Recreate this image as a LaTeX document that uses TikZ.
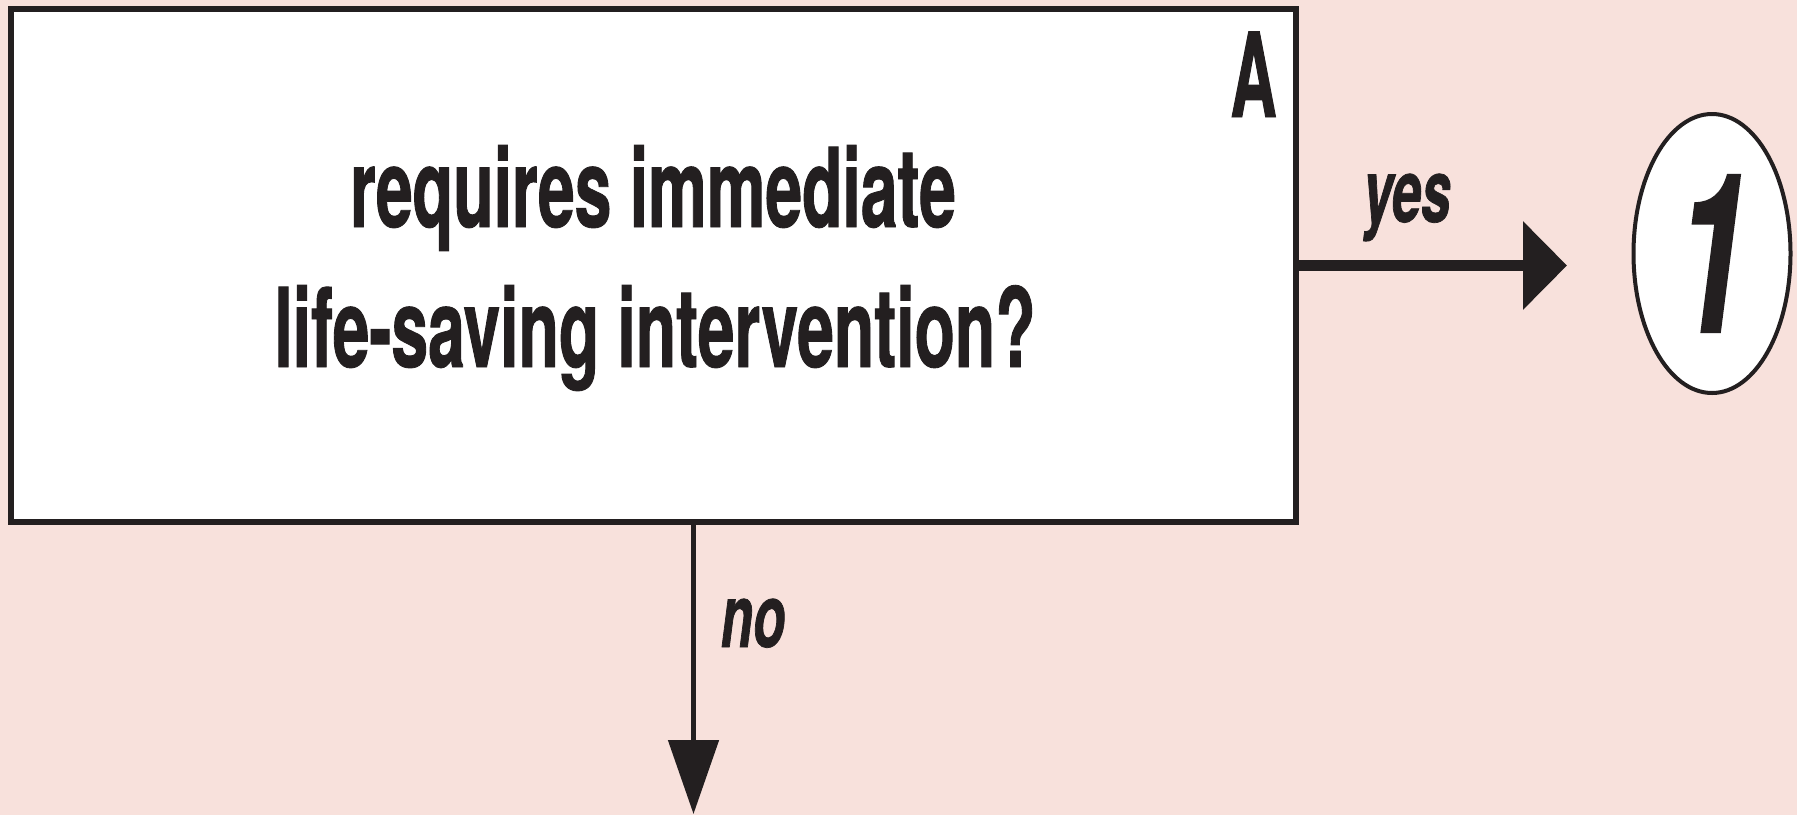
\documentclass[tikz,border=0pt]{standalone}
\usepackage{fontspec}
\setmainfont{TeX Gyre Heros}
\newfontfamily\condfont[FakeStretch=0.6,FakeBold=0.8]{TeX Gyre Heros}
\newfontfamily\condAfont[FakeStretch=0.55,FakeBold=0.8]{TeX Gyre Heros}
\usetikzlibrary{arrows.meta,shapes.geometric}
\definecolor{bg}{RGB}{248,225,220}
\definecolor{ink}{RGB}{35,31,32}
\tikzset{
  qbox/.style={draw=ink, fill=white, line width=6pt, rectangle, minimum width=1285pt, minimum height=513pt, inner sep=0pt},
  qtext/.style={text=ink, font=\condfont\bfseries\fontsize{110}{140}\selectfont, anchor=base, inner sep=0pt},
  corner/.style={text=ink, font=\condAfont\bfseries\fontsize{117}{140}\selectfont, anchor=base east, inner sep=0pt},
  endoval/.style={draw=ink, fill=white, line width=4pt, ellipse, minimum width=157pt, minimum height=279pt, inner sep=0pt, text=ink, font=\condfont\bfseries\itshape\fontsize{222}{240}\selectfont},
  lbl/.style={text=ink, font=\condfont\bfseries\itshape\fontsize{88}{100}\selectfont, anchor=base, inner sep=0pt},
  yesarrow/.style={draw=ink, line width=11pt, -{Triangle[length=44pt,width=86pt]}},
  noarrow/.style={draw=ink, line width=5pt, -{Triangle[length=74pt,width=50pt]}}
}
\begin{document}
\begin{tikzpicture}[x=1pt,y=-1pt]
\useasboundingbox (0,0) rectangle (1797,815);
\fill[bg] (0,0) rectangle (1797,815);
\node[qbox] (box) at (653.5,265.5) {};
\draw[ink, line width=3pt] ([yshift=-4.5pt]box.north west) -- ([yshift=-4.5pt]box.north east);
\node[qtext] (line1) at (653,227) {requires immediate};
\node[qtext] (line2) at (655,367) {life-saving intervention?};
\node[corner] (labA) at (1277,117) {A};
\node[endoval] (one) at (1712,253.5) {1};
\draw[yesarrow, shorten >=64.5pt] (box.east) -- (box.east -| one.west);
\node[lbl] (yes) at (1407,222) {yes};
\coordinate (noend) at (693.5,814);
\draw[noarrow] ([xshift=40pt]box.south) -- (noend);
\node[lbl] (no) at (753,647) {no};
\end{tikzpicture}
\end{document}
